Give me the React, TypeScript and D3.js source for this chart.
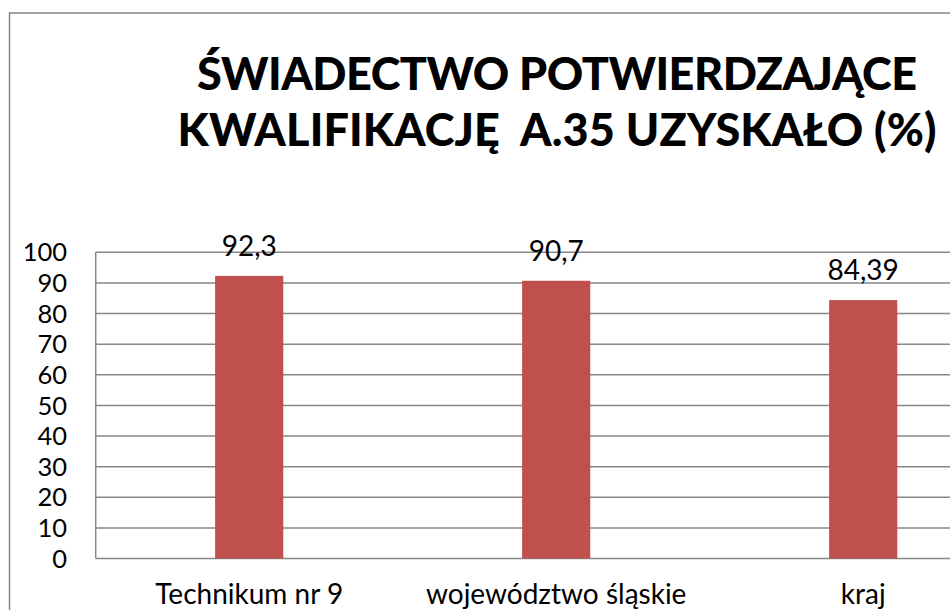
import { useEffect, useRef } from 'react';
import * as d3 from 'd3';

const categories = ['Technikum nr 9', 'województwo śląskie', 'kraj'];
const values = [92.3, 90.7, 84.39];
const valueLabels = ['92,3', '90,7', '84,39'];
const yTicks = [0, 10, 20, 30, 40, 50, 60, 70, 80, 90, 100];
const titleLines = ['ŚWIADECTWO POTWIERDZAJĄCE', 'KWALIFIKACJĘ  A.35 UZYSKAŁO (%)'];

const FONT = 'Lato, Carlito, Calibri, "Open Sans", sans-serif';

export default function App() {
  const svgRef = useRef<SVGSVGElement>(null);

  useEffect(() => {
    const width = 950;
    const height = 610;
    const plot = { left: 95.7, top: 252.3, bottom: 558.5, right: 95.7 + 921 };

    const svg = d3.select(svgRef.current)
      .attr('width', width)
      .attr('height', height);
    svg.selectAll('*').remove();

    // chart frame (extends past the right/bottom edge, as in the crop)
    svg.append('rect')
      .attr('x', 9.5)
      .attr('y', 13)
      .attr('width', 1095)
      .attr('height', 700)
      .attr('fill', 'white')
      .attr('stroke', '#888888')
      .attr('stroke-width', 1.5);

    // title
    svg.append('g')
      .selectAll('text')
      .data(titleLines)
      .join('text')
      .attr('x', 557)
      .attr('y', (d, i) => 90 + i * 56)
      .attr('text-anchor', 'middle')
      .attr('font-family', FONT)
      .attr('font-weight', 900)
      .attr('font-size', 45)
      .attr('fill', '#000')
      .attr('textLength', (d, i) => (i === 0 ? 720 : 759))
      .attr('lengthAdjust', 'spacing')
      .style('white-space', 'pre')
      .text(d => d);

    const xScale = d3.scaleBand()
      .domain(categories)
      .range([plot.left, plot.right])
      .paddingInner(0.778)
      .paddingOuter(0.389);

    const yScale = d3.scaleLinear()
      .domain([0, 100])
      .range([plot.bottom, plot.top]);

    // gridlines
    svg.append('g')
      .selectAll('line')
      .data(yTicks)
      .join('line')
      .attr('x1', plot.left)
      .attr('x2', plot.right)
      .attr('y1', d => yScale(d))
      .attr('y2', d => yScale(d))
      .attr('stroke', '#878787')
      .attr('stroke-width', 1.5);

    // y axis line
    svg.append('line')
      .attr('x1', plot.left)
      .attr('x2', plot.left)
      .attr('y1', plot.top)
      .attr('y2', plot.bottom)
      .attr('stroke', '#878787')
      .attr('stroke-width', 1.5);

    // y tick labels
    svg.append('g')
      .selectAll('text')
      .data(yTicks)
      .join('text')
      .attr('x', 67)
      .attr('y', d => yScale(d))
      .attr('dy', '0.36em')
      .attr('text-anchor', 'end')
      .attr('font-family', FONT)
      .attr('font-size', 25.5)
      .attr('fill', '#000')
      .text(d => d);

    // bars
    svg.append('g')
      .selectAll('rect')
      .data(values)
      .join('rect')
      .attr('x', (d, i) => xScale(categories[i]))
      .attr('y', d => yScale(d))
      .attr('width', xScale.bandwidth())
      .attr('height', d => yScale(0) - yScale(d))
      .attr('fill', '#C0504D');

    // value labels
    svg.append('g')
      .selectAll('text')
      .data(values)
      .join('text')
      .attr('x', (d, i) => xScale(categories[i]) + xScale.bandwidth() / 2)
      .attr('y', d => yScale(d) - 20)
      .attr('text-anchor', 'middle')
      .attr('font-family', FONT)
      .attr('font-size', 28)
      .attr('fill', '#000')
      .text((d, i) => valueLabels[i]);

    // category labels
    svg.append('g')
      .selectAll('text')
      .data(categories)
      .join('text')
      .attr('x', d => xScale(d) + xScale.bandwidth() / 2)
      .attr('y', 604)
      .attr('text-anchor', 'middle')
      .attr('font-family', FONT)
      .attr('font-size', 28)
      .attr('fill', '#000')
      .text(d => d);
  }, []);

  return (
    <div style={{ position: 'absolute', left: 0, top: 0, width: 950, height: 610, overflow: 'hidden', background: 'white' }}>
      <svg ref={svgRef} style={{ display: 'block' }}></svg>
    </div>
  );
}
